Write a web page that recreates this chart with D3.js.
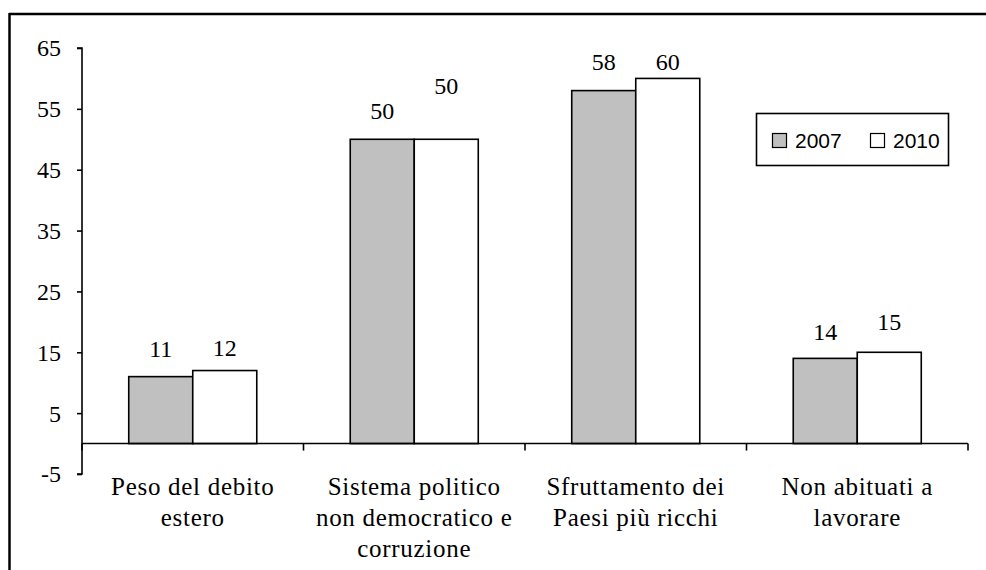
<!DOCTYPE html>
<html>
<head>
<meta charset="utf-8">
<script src="https://cdn.jsdelivr.net/npm/d3@7"></script>
<style>
  html, body { margin: 0; padding: 0; background: #fff; }
  svg { display: block; }
  .serif { font-family: "Liberation Serif", "DejaVu Serif", serif; font-size: 24px; }
  .cat { font-family: "Liberation Serif", "DejaVu Serif", serif; font-size: 25px; letter-spacing: 0.7px; }
  .sans { font-family: "Liberation Sans", "DejaVu Sans", sans-serif; font-size: 21px; }
</style>
</head>
<body>
<svg id="chart" width="986" height="570"></svg>
<script>
// ---- data ----
const categories = [
  "Peso del debito\nestero",
  "Sistema politico\nnon democratico e\ncorruzione",
  "Sfruttamento dei\nPaesi più ricchi",
  "Non abituati a\nlavorare"
];
const seriesNames = ["2007", "2010"];
const values2007 = [11, 50, 58, 14];
const values2010 = [12, 50, 60, 15];
const yTicks = [-5, 5, 15, 25, 35, 45, 55, 65];

// ---- layout (pixel nudges of value labels above bar tops, as in the original) ----
const labelLift = {
  "2007": [28, 28, 29, 26],
  "2010": [22, 53, 16, 30]
};
const seriesFill = { "2007": "#c0c0c0", "2010": "#ffffff" };

const svg = d3.select("#chart");
const W = 986, H = 570;

// outer frame (only top and left visible in the crop)
svg.append("line").attr("x1", 9).attr("x2", W).attr("y1", 14).attr("y2", 14)
  .attr("stroke", "#000").attr("stroke-width", 2.5);
svg.append("line").attr("x1", 9.5).attr("x2", 9.5).attr("y1", 13).attr("y2", H)
  .attr("stroke", "#000").attr("stroke-width", 2.5);

const plotLeft = 82, plotRight = 968;
const y = d3.scaleLinear().domain([-5, 65]).range([474, 48]);
const x = d3.scaleBand().domain(categories).range([plotLeft, plotRight])
  .paddingInner(0.422).paddingOuter(0.211);
const xs = d3.scaleBand().domain(seriesNames).range([0, x.bandwidth()]);

// Y axis
const yAxis = d3.axisLeft(y).tickValues(yTicks).tickSize(5).tickPadding(16)
  .tickFormat(d => String(d));
const gy = svg.append("g").attr("transform", `translate(${plotLeft},0)`).call(yAxis);
gy.attr("font-family", null).attr("font-size", null);
gy.select(".domain").attr("stroke", "#000").attr("stroke-width", 1.6)
  .attr("d", `M-5,${y(65)}H0V${y(-5)}H-5`);
gy.selectAll(".tick line").attr("stroke", "#000").attr("stroke-width", 1.6);
gy.selectAll(".tick text").attr("fill", "#000").attr("class", "serif").attr("dy", "0.33em");

// bars
const rows = categories.map((c, i) => ({ cat: c, vals: { "2007": values2007[i], "2010": values2010[i] }, i }));
const groups = svg.append("g").selectAll("g").data(rows).join("g")
  .attr("transform", d => `translate(${x(d.cat)},0)`);

groups.selectAll("rect").data(d => seriesNames.map(s => ({ s, v: d.vals[s] })))
  .join("rect")
  .attr("x", d => xs(d.s))
  .attr("y", d => y(Math.max(0, d.v)))
  .attr("width", xs.bandwidth())
  .attr("height", d => Math.abs(y(d.v) - y(0)))
  .attr("fill", d => seriesFill[d.s])
  .attr("stroke", "#000").attr("stroke-width", 1.6);

// value labels
groups.selectAll("text.val").data(d => seriesNames.map(s => ({ s, v: d.vals[s], i: d.i })))
  .join("text").attr("class", "serif")
  .attr("x", d => xs(d.s) + xs.bandwidth() / 2)
  .attr("y", d => y(d.v) - labelLift[d.s][d.i])
  .attr("dy", "0.33em")
  .attr("text-anchor", "middle")
  .text(d => d.v);

// X axis (at zero) with boundary ticks
const xAxisG = svg.append("g");
xAxisG.append("line").attr("x1", plotLeft).attr("x2", plotRight)
  .attr("y1", y(0)).attr("y2", y(0)).attr("stroke", "#000").attr("stroke-width", 1.6);
const boundaries = d3.range(categories.length + 1).map(i => plotLeft + i * x.step());
xAxisG.selectAll("line.tk").data(boundaries).join("line").attr("class", "tk")
  .attr("x1", d => d).attr("x2", d => d)
  .attr("y1", y(0)).attr("y2", y(0) + 7)
  .attr("stroke", "#000").attr("stroke-width", 1.6);

// category labels
const catLabels = svg.append("g").selectAll("text").data(categories).join("text")
  .attr("class", "cat")
  .attr("x", d => x(d) + x.bandwidth() / 2)
  .attr("y", 495)
  .attr("text-anchor", "middle");
catLabels.selectAll("tspan").data(d => d.split("\n")).join("tspan")
  .attr("x", function () { return d3.select(this.parentNode).attr("x"); })
  .attr("dy", (d, i) => i === 0 ? 0 : 31)
  .text(d => d);

// legend
const lg = svg.append("g");
lg.append("rect").attr("x", 756.5).attr("y", 113.5).attr("width", 192).attr("height", 52)
  .attr("fill", "#fff").attr("stroke", "#000").attr("stroke-width", 1.6);
const legendX = { "2007": 772, "2010": 870 };
seriesNames.forEach(s => {
  lg.append("rect").attr("x", legendX[s] + 0.5).attr("y", 133.5).attr("width", 14).attr("height", 14)
    .attr("fill", seriesFill[s]).attr("stroke", "#000").attr("stroke-width", 1.2);
  lg.append("text").attr("class", "sans").attr("x", legendX[s] + 23).attr("y", 148)
    .text(s);
});
</script>
</body>
</html>
